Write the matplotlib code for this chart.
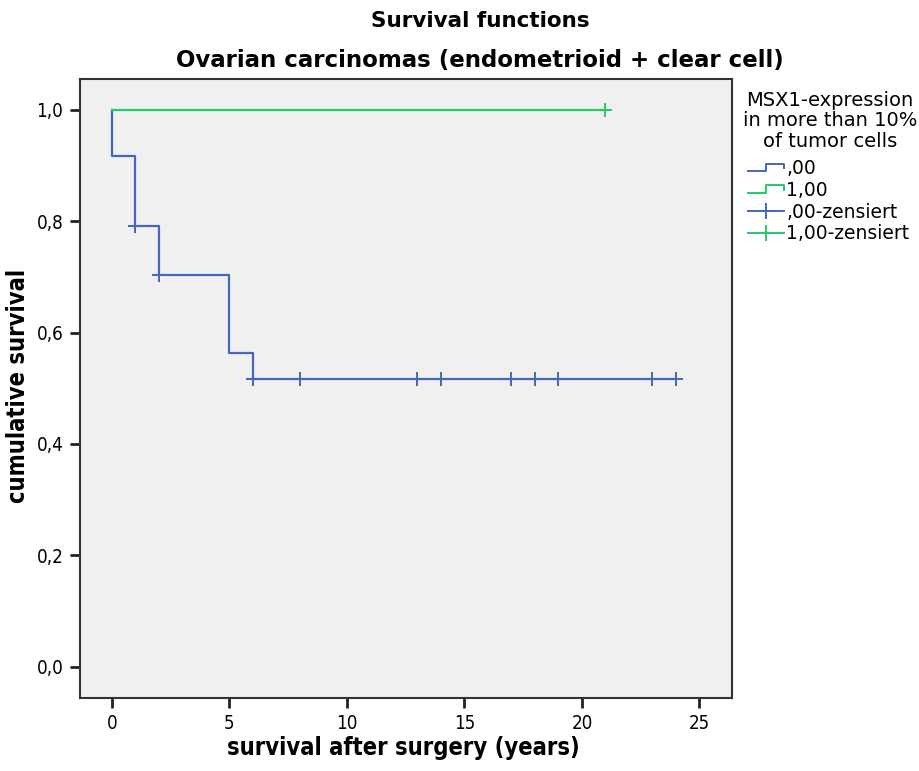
import matplotlib
matplotlib.use("Agg")
import matplotlib.pyplot as plt
from matplotlib.lines import Line2D
from matplotlib.legend_handler import HandlerBase

# data
blue_t = [0, 0, 1, 2, 5, 6, 24]
blue_s = [1.0, 0.917, 0.792, 0.704, 0.563, 0.516, 0.516]
blue_cens_t = [1, 2, 6, 8, 13, 14, 17, 18, 19, 23, 24]
blue_cens_s = [0.792, 0.704, 0.516, 0.516, 0.516, 0.516, 0.516, 0.516, 0.516, 0.516, 0.516]
green_t = [0, 21]
green_s = [1.0, 1.0]
green_cens_t = [21]
green_cens_s = [1.0]

xticks = [0, 5, 10, 15, 20, 25]
yticks = [0.0, 0.2, 0.4, 0.6, 0.8, 1.0]
ytick_labels = ["0,0", "0,2", "0,4", "0,6", "0,8", "1,0"]
legend_labels = [",00", "1,00", ",00-zensiert", "1,00-zensiert"]

BLUE = "#4466bb"
GREEN = "#22cc66"

fig = plt.figure(figsize=(9.2, 7.71), dpi=100)
ax = fig.add_axes([0.087, 0.095, 0.709, 0.803])
ax.set_facecolor("#f0f0f0")

ax.step(blue_t, blue_s, where="post", color=BLUE, lw=1.6)
ax.step(green_t, green_s, where="post", color=GREEN, lw=1.6)
ax.plot(blue_cens_t, blue_cens_s, ls="none", marker="+", ms=10, mew=1.4, color=BLUE)
ax.plot(green_cens_t, green_cens_s, ls="none", marker="+", ms=10, mew=1.4, color=GREEN)

ax.set_xlim(-1.36, 26.4)
ax.set_ylim(-0.056, 1.056)
ax.set_xticks(xticks)
ax.set_xticklabels([str(v) for v in xticks], fontsize=13.5, fontstretch="condensed")
ax.set_yticks(yticks)
ax.set_yticklabels(ytick_labels, fontsize=13.5, fontstretch="condensed")
ax.tick_params(direction="out", length=7, width=2, color="#222222", pad=5)
for sp in ax.spines.values():
    sp.set_color("#333333")
    sp.set_linewidth(1.5)

fig.text(0.438, 0.030, "survival after surgery (years)", ha="center", va="center",
         fontsize=17, fontweight="bold", fontstretch="condensed")
fig.text(0.020, 0.50, "cumulative survival", ha="center", va="center", rotation=90,
         fontsize=17, fontweight="bold", fontstretch="condensed")

fig.text(0.522, 0.973, "Survival functions", ha="center", va="center",
         fontsize=15.5, fontweight="bold")
fig.text(0.522, 0.922, "Ovarian carcinomas (endometrioid + clear cell)", ha="center",
         va="center", fontsize=16.5, fontweight="bold")

# legend title
fig.text(0.902, 1 - 91 / 771, "MSX1-expression\nin more than 10%\nof tumor cells",
         ha="center", va="top", multialignment="center", fontsize=14,
         linespacing=1.1)


class StepHandler(HandlerBase):
    def create_artists(self, legend, orig_handle, xdescent, ydescent, width, height,
                       fontsize, trans):
        x0, x1 = -xdescent, -xdescent + width
        yb = -ydescent + height * 0.2
        yt = -ydescent + height * 0.8
        xm = x0 + width * 0.5
        line = Line2D([x0, xm, xm, x1, x1], [yb, yb, yt, yt, yb + (yt - yb) * 0.4],
                      color=orig_handle.get_color(), lw=1.4, transform=trans)
        return [line]


h_blue = Line2D([], [], color=BLUE)
h_green = Line2D([], [], color=GREEN)
h_bc = Line2D([0], [0], color=BLUE, marker="+", ms=12, mew=1.4, lw=1.4)
h_gc = Line2D([0], [0], color=GREEN, marker="+", ms=12, mew=1.4, lw=1.4)

leg = fig.legend([h_blue, h_green, h_bc, h_gc], legend_labels,
                 loc="upper left", bbox_to_anchor=(748 / 920, 1 - 159 / 771),
                 borderaxespad=0, borderpad=0,
                 frameon=False, fontsize=13.5,
                 handlelength=1.9, handletextpad=0.15, labelspacing=0.15,
                 handler_map={h_blue: StepHandler(), h_green: StepHandler()})

fig.savefig("out.png", dpi=100)
